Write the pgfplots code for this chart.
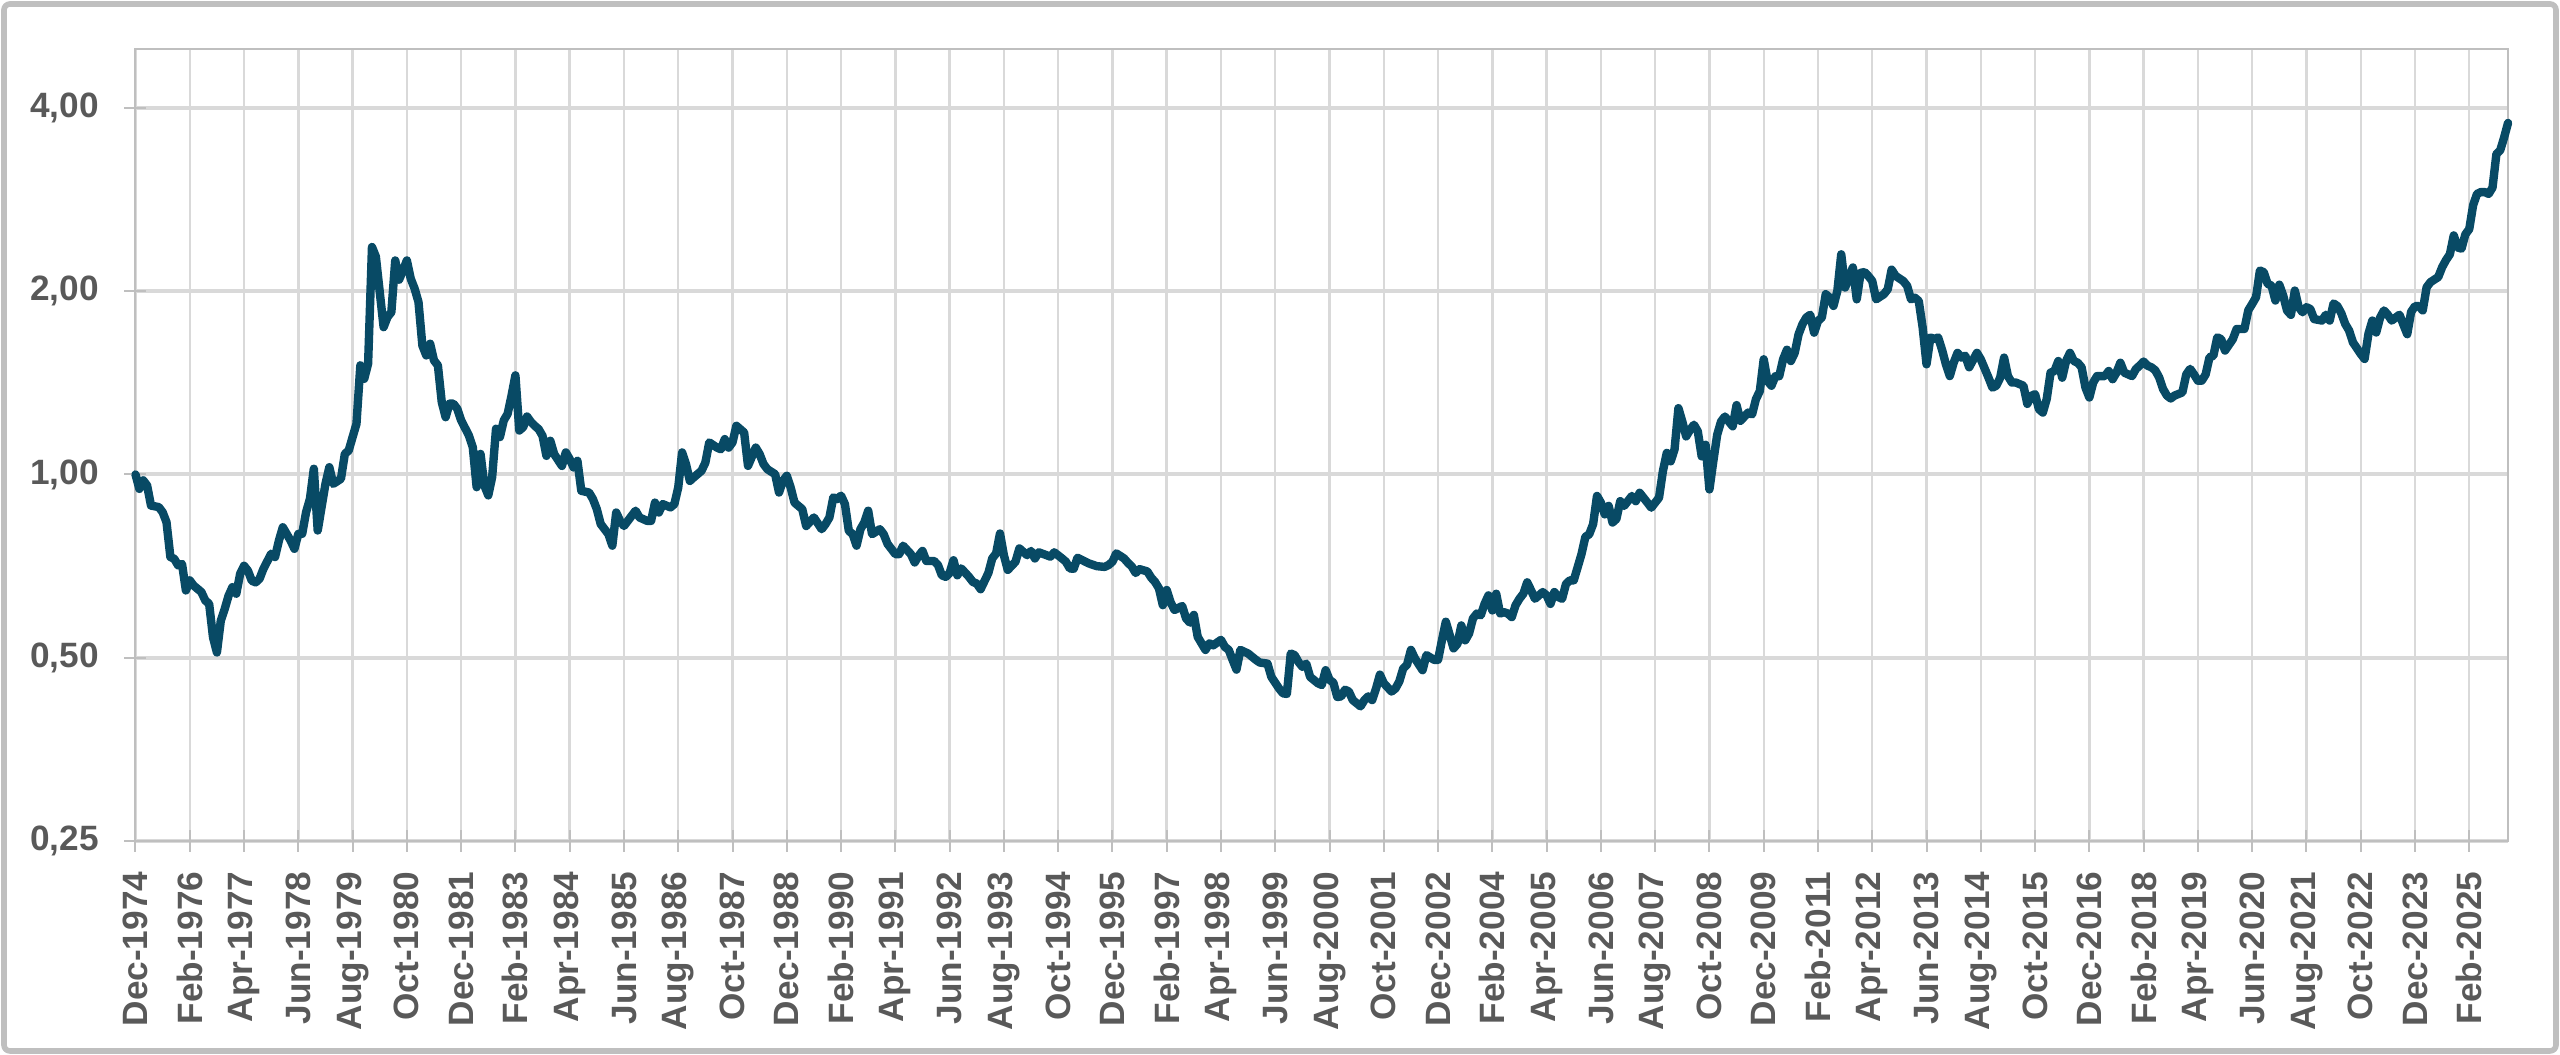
\documentclass[border=0pt]{standalone}
\usepackage{fontspec}
\setmainfont{Liberation Sans}
\usepackage{pgfplots}
\pgfplotsset{compat=1.18}
\definecolor{lineblue}{HTML}{084A65}
\definecolor{gridgray}{HTML}{D9D9D9}
\definecolor{axisgray}{HTML}{BFBFBF}
\definecolor{labelgray}{HTML}{595959}
\begin{document}
\begin{tikzpicture}
\path[use as bounding box] (0,0) rectangle (640pt,263.75pt);
\draw[axisgray, line width=1.4pt, rounded corners=1.5pt] (1pt,1pt) rectangle (639pt,262.75pt);
\begin{axis}[
  at={(33.875pt,53.5pt)}, anchor=south west,
  scale only axis, width=593.125pt, height=198pt,
  xmin=0, xmax=612,
  ymode=log, log basis y=2,
  ymin=0.25, ymax=5,
  ytick={0.25,0.5,1,2,4},
  yticklabels={{0,25},{0,50},{1,00},{2,00},{4,00}},
  xtick={0,14,...,602},
  xticklabels={Dec-1974,Feb-1976,Apr-1977,Jun-1978,Aug-1979,Oct-1980,Dec-1981,Feb-1983,Apr-1984,Jun-1985,Aug-1986,Oct-1987,Dec-1988,Feb-1990,Apr-1991,Jun-1992,Aug-1993,Oct-1994,Dec-1995,Feb-1997,Apr-1998,Jun-1999,Aug-2000,Oct-2001,Dec-2002,Feb-2004,Apr-2005,Jun-2006,Aug-2007,Oct-2008,Dec-2009,Feb-2011,Apr-2012,Jun-2013,Aug-2014,Oct-2015,Dec-2016,Feb-2018,Apr-2019,Jun-2020,Aug-2021,Oct-2022,Dec-2023,Feb-2025},
  tick pos=left,
  tick align=center,
  major tick length=5.5pt,
  minor tick num=0,
  major tick style={draw=axisgray, line width=0.5pt},
  axis line style={draw=axisgray, line width=0.5pt},
  grid=major,
  x grid style={draw=gridgray, line width=0.6pt},
  y grid style={draw=gridgray, line width=1pt},
  ticklabel style={font=\fontsize{8.8}{10}\selectfont\bfseries, text=labelgray},
  xticklabel style={rotate=90, anchor=east, inner sep=0pt},
  yticklabel style={anchor=east, inner sep=0pt},
  xticklabel shift=4.75pt,
  yticklabel shift=6.2pt,
  clip=false,
]
\addplot[lineblue, line width=2.1pt, line join=round, line cap=round] table {
x y
0 1.00
1 0.947
2 0.978
3 0.959
4 0.889
6 0.884
7 0.867
8 0.835
9 0.732
10 0.727
11 0.709
12 0.713
13 0.645
14 0.670
15 0.657
17 0.641
18 0.621
19 0.613
20 0.540
21 0.510
22 0.575
23 0.601
24 0.632
25 0.653
26 0.637
27 0.687
28 0.708
29 0.695
30 0.669
31 0.665
32 0.674
33 0.700
35 0.741
36 0.732
37 0.779
38 0.819
40 0.779
41 0.755
42 0.799
43 0.799
44 0.867
45 0.912
46 1.022
47 0.809
49 0.965
50 1.028
51 0.965
53 0.984
54 1.081
55 1.095
56 1.152
57 1.211
58 1.511
59 1.436
60 1.520
61 2.364
62 2.28
64 1.746
65 1.814
66 1.848
67 2.247
68 2.089
69 2.164
70 2.247
71 2.097
72 2.020
73 1.920
74 1.629
75 1.569
76 1.640
77 1.539
78 1.511
79 1.315
80 1.242
81 1.307
82 1.307
83 1.282
84 1.227
86 1.159
87 1.109
88 0.953
89 1.081
90 0.959
91 0.924
92 0.990
93 1.189
94 1.152
95 1.227
96 1.258
97 1.348
98 1.455
99 1.181
100 1.196
101 1.245
102 1.22
103 1.202
104 1.187
105 1.157
106 1.073
107 1.136
108 1.080
110 1.033
111 1.087
112 1.060
113 1.027
114 1.053
115 0.940
117 0.934
118 0.911
119 0.877
120 0.829
122 0.798
123 0.764
124 0.866
125 0.839
126 0.823
127 0.839
129 0.872
130 0.850
132 0.839
133 0.839
134 0.899
135 0.866
136 0.894
138 0.883
139 0.894
140 0.952
141 1.087
142 1.040
143 0.976
144 0.989
146 1.014
147 1.046
148 1.129
150 1.107
151 1.100
152 1.143
153 1.107
154 1.129
155 1.202
157 1.172
158 1.033
160 1.107
161 1.080
162 1.040
163 1.020
165 1.001
166 0.934
167 0.976
168 0.995
169 0.952
170 0.899
172 0.877
173 0.823
175 0.850
177 0.813
178 0.829
179 0.850
180 0.917
181 0.911
182 0.923
183 0.894
184 0.808
185 0.798
186 0.764
187 0.813
188 0.834
189 0.872
190 0.798
192 0.813
193 0.798
194 0.769
196 0.740
197 0.740
198 0.764
200 0.740
201 0.717
202 0.735
203 0.749
204 0.721
206 0.721
207 0.71
208 0.683
209 0.679
210 0.689
211 0.723
212 0.683
213 0.701
215 0.679
216 0.666
217 0.662
218 0.648
220 0.689
221 0.728
222 0.742
223 0.800
224 0.737
225 0.697
227 0.719
228 0.756
230 0.737
231 0.749
232 0.728
233 0.745
235 0.737
236 0.733
237 0.745
239 0.728
240 0.719
241 0.701
242 0.70
243 0.73
245 0.719
246 0.714
248 0.707
250 0.705
251 0.710
252 0.719
253 0.742
255 0.728
256 0.716
257 0.706
258 0.689
259 0.699
261 0.693
262 0.677
263 0.666
264 0.650
265 0.610
266 0.646
267 0.617
268 0.599
270 0.608
271 0.580
272 0.571
273 0.588
274 0.541
276 0.515
277 0.528
278 0.524
280 0.535
281 0.521
282 0.515
283 0.496
284 0.478
285 0.515
287 0.508
288 0.502
289 0.496
290 0.491
292 0.489
293 0.465
295 0.445
296 0.437
297 0.436
298 0.508
299 0.505
300 0.492
301 0.483
302 0.489
303 0.465
305 0.454
306 0.451
307 0.477
308 0.46
309 0.455
310 0.431
311 0.432
312 0.443
313 0.440
314 0.426
316 0.416
317 0.426
318 0.432
319 0.426
320 0.445
321 0.469
322 0.454
324 0.440
325 0.445
326 0.457
327 0.480
328 0.487
329 0.515
330 0.499
332 0.477
333 0.505
335 0.496
336 0.496
337 0.534
338 0.573
339 0.545
340 0.518
341 0.527
342 0.565
343 0.534
344 0.548
345 0.580
346 0.591
347 0.587
348 0.613
349 0.633
350 0.598
351 0.637
352 0.591
353 0.594
354 0.591
355 0.583
356 0.610
357 0.625
358 0.637
359 0.665
360 0.645
361 0.625
363 0.641
364 0.633
365 0.613
366 0.641
367 0.629
368 0.625
369 0.661
370 0.670
371 0.670
372 0.704
373 0.74
374 0.79
375 0.798
376 0.829
377 0.922
378 0.899
379 0.860
380 0.888
381 0.834
382 0.845
383 0.904
384 0.888
386 0.922
387 0.904
388 0.933
390 0.899
391 0.882
392 0.899
393 0.916
394 1.013
395 1.085
396 1.051
397 1.099
398 1.285
399 1.222
400 1.155
401 1.184
402 1.207
403 1.177
404 1.071
405 1.119
406 0.945
407 1.051
408 1.162
409 1.222
410 1.245
411 1.222
412 1.20
413 1.30
414 1.225
416 1.264
417 1.255
418 1.330
419 1.371
420 1.546
421 1.424
422 1.399
423 1.450
424 1.450
425 1.546
426 1.603
427 1.536
428 1.584
429 1.700
430 1.766
431 1.811
432 1.830
433 1.71
434 1.787
435 1.811
436 1.978
437 1.953
438 1.892
439 2.003
440 2.300
441 2.028
442 2.105
443 2.188
444 1.940
445 2.144
446 2.15
447 2.118
448 2.079
449 1.94
451 1.978
452 2.015
453 2.17
454 2.12
456 2.079
457 2.041
458 1.94
459 1.952
460 1.927
461 1.744
462 1.517
463 1.679
464 1.67
465 1.679
466 1.603
467 1.517
468 1.451
469 1.526
470 1.584
471 1.556
472 1.567
473 1.500
475 1.584
476 1.546
478 1.442
479 1.389
480 1.399
481 1.442
482 1.556
483 1.451
484 1.416
485 1.416
487 1.399
488 1.306
489 1.346
490 1.355
491 1.280
492 1.264
493 1.33
494 1.470
495 1.479
496 1.536
497 1.442
498 1.536
499 1.584
500 1.536
501 1.526
502 1.500
503 1.389
504 1.338
505 1.416
506 1.451
508 1.451
509 1.479
510 1.434
511 1.47
512 1.526
513 1.47
515 1.451
516 1.49
517 1.51
518 1.533
519 1.509
520 1.50
521 1.483
522 1.444
523 1.382
524 1.348
525 1.333
526 1.348
528 1.364
529 1.460
530 1.491
531 1.460
532 1.426
533 1.426
534 1.460
535 1.558
536 1.567
537 1.680
538 1.668
539 1.598
541 1.668
542 1.734
543 1.734
544 1.734
545 1.861
546 1.906
547 1.955
548 2.163
549 2.149
550 2.056
551 2.043
552 1.931
553 2.05
554 1.968
555 1.859
556 1.829
557 2.005
558 1.883
559 1.847
560 1.883
561 1.87
562 1.80
564 1.79
565 1.83
566 1.79
567 1.91
568 1.89
569 1.84
570 1.767
571 1.724
572 1.648
574 1.578
575 1.548
576 1.703
577 1.790
578 1.711
579 1.81
580 1.86
581 1.83
582 1.79
584 1.83
586 1.70
587 1.85
588 1.89
589 1.89
590 1.86
591 2.03
592 2.07
593 2.09
594 2.11
595 2.19
596 2.25
597 2.30
598 2.47
599 2.36
600 2.35
601 2.48
602 2.53
603 2.77
604 2.89
605 2.91
606 2.91
607 2.89
608 2.96
609 3.36
610 3.41
611 3.58
612 3.78
};
\end{axis}
\end{tikzpicture}
\end{document}
